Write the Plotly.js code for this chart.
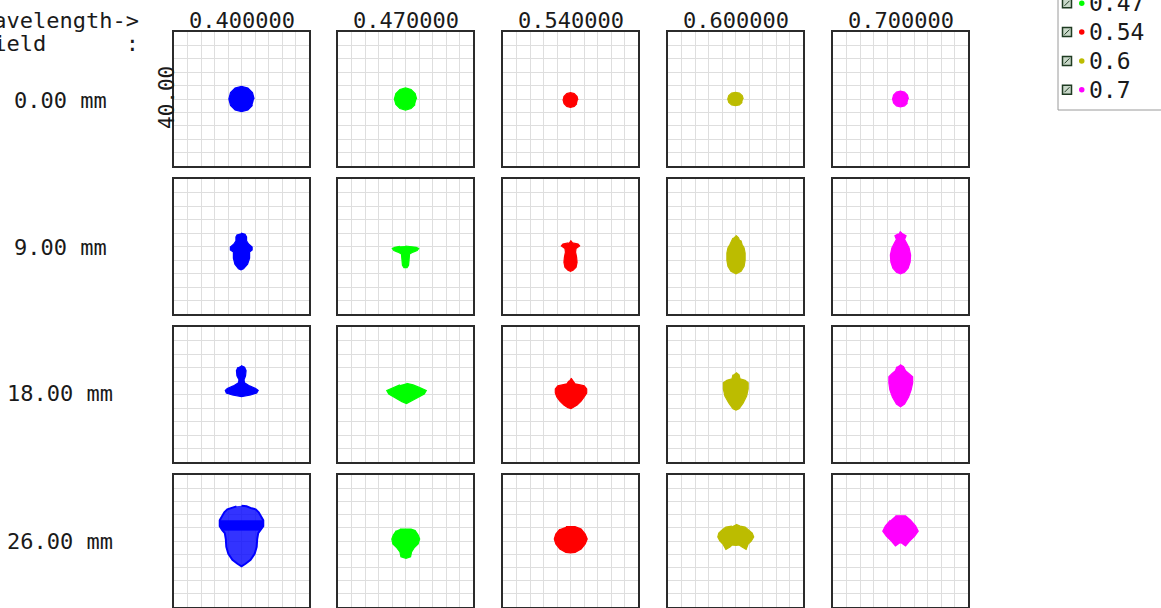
<!DOCTYPE html>
<html>
<head>
<meta charset="utf-8">
<script src="https://cdn.plot.ly/plotly-3.0.1.min.js"></script>
<style>html,body{margin:0;padding:0;background:#fff;}#chart{width:1161px;height:608px;}</style>
</head>
<body>
<div id="chart"></div>
<script>
// ---------------- data ----------------
const wavelengths = [0.4, 0.47, 0.54, 0.6, 0.7];
const waveLabels = ['0.400000', '0.470000', '0.540000', '0.600000', '0.700000'];
const legendLabels = ['0.4', '0.47', '0.54', '0.6', '0.7'];
const fieldLabels = ['0.00 mm', '9.00 mm', '18.00 mm', '26.00 mm'];
const scaleLabel = '40.00';          // box size, micrometres
const boxHalf = 20;                  // half box, micrometres
const colors = ['#0000ff', '#00ff00', '#ff0000', '#bcbc00', '#ff00ff'];

// spot outlines (micrometres, relative to chief ray), field f, wavelength w
const f1w1x = [3.75, 3.25, 1.9, 0, -1.9, -3.25, -3.75, -3.25, -1.9, 0, 1.9, 3.25];
const f1w1y = [0, 1.9, 3.25, 3.75, 3.25, 1.9, 0, -1.9, -3.25, -3.75, -3.25, -1.9];
const f1w2x = [3.3, 2.85, 1.65, 0, -1.65, -2.85, -3.3, -2.85, -1.65, 0, 1.65, 2.85];
const f1w2y = [0, 1.65, 2.85, 3.3, 2.85, 1.65, 0, -1.65, -2.85, -3.3, -2.85, -1.65];
const f1w3x = [2.2, 1.9, 1.1, 0, -1.1, -1.9, -2.2, -1.9, -1.1, 0, 1.1, 1.9];
const f1w3y = [-0.3, 0.8, 1.6, 1.9, 1.6, 0.8, -0.3, -1.4, -2.2, -2.5, -2.2, -1.4];
const f1w4x = [2.3, 2.0, 1.15, 0, -1.15, -2.0, -2.3, -2.0, -1.15, 0, 1.15, 2.0];
const f1w4y = [0, 1.0, 1.75, 2.0, 1.75, 1.0, 0, -1.0, -1.75, -2.0, -1.75, -1.0];
const f1w5x = [2.35, 2.05, 1.2, 0, -1.2, -2.05, -2.35, -2.05, -1.2, 0, 1.2, 2.05];
const f1w5y = [0, 1.2, 2.05, 2.35, 2.05, 1.2, 0, -1.2, -2.05, -2.35, -2.05, -1.2];

const f2w1x = [-0.15, 1.05, 1.5, 1.5, 2.1, 3.15, 3.15, 2.4, 2.4, 1.8, 0.6, -0.15, -0.9, -1.95, -2.4, -2.4, -3.3, -3.3, -2.25, -1.65, -1.65, -1.2];
const f2w1y = [3.96, 3.6, 2.85, 1.65, 0.75, -0.15, -1.05, -1.65, -3.45, -5.25, -6.6, -6.9, -6.6, -5.25, -3.45, -1.65, -1.05, -0.15, 0.75, 1.65, 2.85, 3.6];
const f2w2x = [0, 1.65, 3.15, 3.9, 3.45, 2.25, 1.2, 1.05, 0.9, 0.45, -0.45, -0.9, -1.05, -1.2, -2.25, -3.45, -3.9, -3.15, -1.65];
const f2w2y = [0.15, 0.06, -0.24, -0.6, -1.2, -1.65, -2.25, -4.05, -5.55, -6.24, -6.24, -5.55, -4.05, -2.25, -1.65, -1.2, -0.6, -0.24, 0.06];
const f2w3x = [0, 0.6, 2.25, 2.7, 1.65, 1.5, 1.8, 1.95, 1.65, 0.75, 0, -0.75, -1.65, -1.95, -1.8, -1.5, -1.65, -2.7, -2.25, -0.6];
const f2w3y = [1.8, 1.05, 0.75, 0.15, -0.6, -1.65, -3.15, -4.65, -6.15, -7.05, -7.35, -7.05, -6.15, -4.65, -3.15, -1.65, -0.6, 0.15, 0.75, 1.05];
const f2w4x = [0.15, 0.9, 1.2, 1.65, 1.95, 2.55, 2.85, 2.85, 2.55, 1.65, 0.15, -1.35, -2.25, -2.55, -2.55, -2.25, -1.65, -1.05, -0.75];
const f2w4y = [3.3, 2.55, 1.8, 1.65, 0.6, -0.45, -1.95, -4.05, -5.85, -7.35, -8.1, -7.35, -5.85, -4.05, -1.95, -0.45, 0.6, 1.65, 2.55];
const f2w5x = [-0.15, 0.6, 1.65, 1.2, 1.8, 2.55, 3, 2.85, 2.25, 1.2, 0, -1.2, -2.25, -2.85, -3, -2.55, -1.8, -1.2, -1.65, -0.6];
const f2w5y = [4.5, 3.75, 3.15, 2.1, 1.05, -0.45, -2.55, -4.65, -6.45, -7.65, -8.1, -7.65, -6.45, -4.65, -2.55, -0.45, 1.05, 2.1, 3.15, 3.75];

const f3w1x = [-0.15, 0.9, 1.35, 1.2, 0.75, 0.9, 2.4, 4.2, 4.95, 4.5, 2.7, 0, -2.7, -4.5, -4.8, -4.2, -2.4, -0.9, -0.75, -1.35, -1.5, -1.05];
const f3w1y = [8.55, 8.1, 7.05, 5.55, 4.35, 3.45, 2.55, 1.8, 1.2, 0.45, -0.15, -0.6, -0.15, 0.45, 1.2, 1.8, 2.55, 3.45, 4.35, 5.55, 7.05, 8.1];
const f3w2x = [0.3, 2.25, 4.05, 6.15, 5.55, 3.75, 1.65, 0.3, -1.05, -3.15, -4.95, -5.55, -3.45, -1.65];
const f3w2y = [3.3, 2.85, 2.1, 1.2, 0.15, -0.9, -2.1, -2.7, -2.1, -0.9, 0.15, 1.2, 2.1, 2.85];
const f3w3x = [0.15, 0.75, 1.35, 2.85, 4.05, 4.8, 4.8, 4.05, 3.15, 1.95, 0.75, 0.15, -0.75, -1.95, -3.15, -4.05, -4.5, -4.5, -3.75, -2.55, -1.05, -0.45];
const f3w3y = [4.86, 4.05, 3.15, 2.85, 2.55, 1.65, 0.45, -0.75, -1.95, -3.15, -3.9, -4.2, -3.9, -3.15, -1.95, -0.75, 0.45, 1.65, 2.55, 2.85, 3.15, 4.05];
const f3w4x = [0.15, 1.05, 1.35, 2.85, 3.75, 3.75, 3.3, 2.25, 1.05, 0.15, -0.75, -1.95, -3.15, -3.6, -3.6, -2.55, -1.05, -0.75];
const f3w4y = [6.54, 5.85, 4.65, 4.2, 3.45, 1.65, -0.45, -2.55, -4.2, -4.65, -4.2, -2.55, -0.45, 1.65, 3.45, 4.2, 4.65, 5.85];
const f3w5x = [-0.15, 0.9, 1.5, 2.7, 3.6, 3.6, 3.15, 2.4, 1.2, 0, -1.2, -2.4, -3.15, -3.45, -3.45, -2.55, -1.5, -1.05];
const f3w5y = [8.85, 8.25, 7.05, 6.15, 5.25, 3.45, 1.35, -0.75, -2.85, -3.66, -2.85, -0.75, 1.35, 3.45, 5.25, 6.15, 7.05, 8.25];

const f4w1x = [0, 1.5, 3, 4.2, 5.1, 5.85, 6.45, 6.45, 5.7, 4.95, 4.65, 4.5, 3.9, 2.7, 1.2, 0, -1.2, -2.7, -3.9, -4.5, -4.65, -4.95, -5.7, -6.45, -6.45, -5.85, -5.1, -4.2, -3, -1.5];
const f4w1y = [10.65, 10.5, 9.9, 9.6, 8.7, 7.5, 6.3, 4.5, 3.3, 2.4, 0.6, -1.8, -3.9, -5.7, -6.9, -7.65, -6.9, -5.7, -3.9, -1.8, 0.6, 2.4, 3.3, 4.5, 6.3, 7.5, 8.7, 9.6, 9.9, 10.5];
const f4w1bandx = [-6.45, 6.45, 6.3, 5.7, -5.7, -6.3];
const f4w1bandy = [6.1, 6.1, 4.5, 3.3, 3.3, 4.5];
const f4w2x = [-1.65, 1.65, 2.85, 3.75, 4.2, 3.75, 2.55, 1.8, 1.5, 0.15, -1.35, -1.65, -2.55, -3.75, -4.05, -3.6, -2.7];
const f4w2y = [3.6, 3.6, 3.15, 1.8, 0.6, -0.9, -2.1, -3.3, -4.8, -5.25, -4.8, -3.3, -2.1, -0.9, 0.6, 1.8, 3.15];
const f4w3x = [-1.35, 1.35, 3.15, 4.35, 4.95, 4.35, 3.15, 1.35, 0, -1.35, -3.15, -4.35, -4.8, -4.35, -3.15];
const f4w3y = [4.35, 4.35, 3.6, 2.1, 0.6, -0.9, -2.4, -3.45, -3.6, -3.45, -2.4, -0.9, 0.6, 2.1, 3.6];
const f4w4x = [0.15, 1.35, 2.85, 4.05, 4.95, 5.4, 4.65, 3.75, 3.15, 1.95, 1.05, 0.15, -1.05, -1.65, -2.85, -3.75, -4.65, -5.25, -4.95, -4.05, -2.85, -1.05];
const f4w4y = [5.1, 4.5, 4.2, 3.3, 2.4, 1.2, 0, -0.9, -2.55, -1.8, -1.2, -1.35, -1.2, -1.8, -2.55, -0.9, 0, 1.2, 2.4, 3.3, 4.2, 4.5];
const f4w5x = [-1.5, 1.5, 3, 4.5, 5.25, 4.2, 2.7, 1.5, 0.3, -0.3, -1.5, -2.7, -4.2, -5.25, -4.5, -3];
const f4w5y = [7.65, 7.65, 6.3, 4.5, 3, 1.5, 0, -1.5, -0.6, -0.6, -1.5, 0, 1.5, 3, 4.5, 6.3];

const spots = [
  [[f1w1x, f1w1y], [f1w2x, f1w2y], [f1w3x, f1w3y], [f1w4x, f1w4y], [f1w5x, f1w5y]],
  [[f2w1x, f2w1y], [f2w2x, f2w2y], [f2w3x, f2w3y], [f2w4x, f2w4y], [f2w5x, f2w5y]],
  [[f3w1x, f3w1y], [f3w2x, f3w2y], [f3w3x, f3w3y], [f3w4x, f3w4y], [f3w5x, f3w5y]],
  [[f4w1x, f4w1y], [f4w2x, f4w2y], [f4w3x, f4w3y], [f4w4x, f4w4y], [f4w5x, f4w5y]]
];

// ---------------- layout ----------------
const W = 1161, H = 608;
const px = x => x / W;
const py = y => 1 - y / H;
const colLeft = [174, 338, 503, 668, 833];
const colW = 135;
const rowTop = [32, 179, 327, 475];
const rowBot = [166, 314, 462, 607];
const FONT = 'DejaVu Sans Mono, monospace';
const TXT = '#1a1a1a';

const traces = [];
const layout = {
  width: W, height: H,
  margin: {l: 0, r: 0, t: 0, b: 0},
  paper_bgcolor: '#ffffff', plot_bgcolor: '#ffffff',
  showlegend: false,
  font: {family: FONT, size: 22, color: TXT},
  annotations: [], shapes: []
};

let k = 0;
for (let r = 0; r < 4; r++) {
  for (let c = 0; c < 5; c++) {
    k++;
    const xa = k === 1 ? 'xaxis' : 'xaxis' + k;
    const ya = k === 1 ? 'yaxis' : 'yaxis' + k;
    const xr = k === 1 ? 'x' : 'x' + k;
    const yr = k === 1 ? 'y' : 'y' + k;
    const common = {
      range: [-boxHalf, boxHalf], tick0: 0, dtick: 4,
      showgrid: true, gridcolor: '#dedede', gridwidth: 1,
      zeroline: false, showticklabels: false, ticks: '',
      showline: true, mirror: true, linecolor: '#2b2b2b', linewidth: 2,
      fixedrange: true
    };
    layout[xa] = Object.assign({}, common, {domain: [px(colLeft[c]), px(colLeft[c] + colW)], anchor: yr});
    layout[ya] = Object.assign({}, common, {domain: [Math.max(0, py(rowBot[r])), py(rowTop[r])], anchor: xr});

    const s = spots[r][c];
    const speckled = (r === 3 && c === 0);
    traces.push({
      type: 'scatter', mode: 'lines', x: s[0], y: s[1],
      xaxis: xr, yaxis: yr, fill: 'toself',
      fillcolor: speckled ? 'rgba(0,0,255,0.8)' : colors[c],
      line: {color: colors[c], width: speckled ? 2 : 1.2},
      name: legendLabels[c], hoverinfo: 'skip'
    });
    if (speckled) {
      traces.push({
        type: 'scatter', mode: 'lines', x: f4w1bandx, y: f4w1bandy,
        xaxis: xr, yaxis: yr, fill: 'toself', fillcolor: colors[0],
        line: {color: colors[0], width: 1}, hoverinfo: 'skip', name: legendLabels[0]
      });
    }
  }
}

// column headers
for (let c = 0; c < 5; c++) {
  layout.annotations.push({
    xref: 'paper', yref: 'paper', x: px(colLeft[c] + colW / 2), y: py(20),
    xanchor: 'center', yanchor: 'middle', showarrow: false,
    text: waveLabels[c], font: {family: FONT, size: 22, color: TXT}
  });
}
// row labels
const rowMid = [100, 247, 393, 541];
for (let r = 0; r < 4; r++) {
  layout.annotations.push({
    xref: 'paper', yref: 'paper', x: px(60), y: py(rowMid[r]),
    xanchor: 'center', yanchor: 'middle', showarrow: false,
    text: fieldLabels[r], font: {family: FONT, size: 22, color: TXT}
  });
}
// corner labels (cut at the left page edge, as in the source)
layout.annotations.push({
  xref: 'paper', yref: 'paper', x: px(141), y: py(20),
  xanchor: 'right', yanchor: 'middle', showarrow: false,
  text: 'Wavelength-&gt;', font: {family: FONT, size: 22, color: TXT}
});
layout.annotations.push({
  xref: 'paper', yref: 'paper', x: px(141), y: py(43),
  xanchor: 'right', yanchor: 'middle', showarrow: false,
  text: 'Field&nbsp;&nbsp;&nbsp;&nbsp;&nbsp;&nbsp;:', font: {family: FONT, size: 22, color: TXT}
});
// scale label
layout.annotations.push({
  xref: 'paper', yref: 'paper', x: px(167), y: py(98),
  xanchor: 'center', yanchor: 'middle', showarrow: false, textangle: -90,
  text: scaleLabel, font: {family: FONT, size: 21, color: TXT}
});

// legend (top-right, partly off-page)
layout.shapes.push({
  type: 'rect', xref: 'paper', yref: 'paper',
  x0: px(1058), x1: px(1175), y0: py(110), y1: py(-20),
  line: {color: '#9a9a9a', width: 1}, fillcolor: 'rgba(0,0,0,0)'
});
const legY0 = -25.5, legDy = 28.8;
for (let i = 0; i < legendLabels.length; i++) {
  const yc = legY0 + i * legDy;
  if (yc < -10) continue;   // entry lies above the visible page
  layout.shapes.push({
    type: 'rect', xref: 'paper', yref: 'paper',
    x0: px(1062.5), x1: px(1071.5), y0: py(yc + 4.5), y1: py(yc - 4.5),
    line: {color: '#1f3b22', width: 1.5}, fillcolor: '#c9d8c9'
  });
  layout.shapes.push({
    type: 'line', xref: 'paper', yref: 'paper',
    x0: px(1064.5), x1: px(1069.5), y0: py(yc + 2.5), y1: py(yc - 2.5),
    line: {color: '#1f3b22', width: 1}
  });
  layout.shapes.push({
    type: 'circle', xref: 'paper', yref: 'paper',
    x0: px(1079), x1: px(1084.5), y0: py(yc + 2.75), y1: py(yc - 2.75),
    line: {color: colors[i], width: 0}, fillcolor: colors[i]
  });
  layout.annotations.push({
    xref: 'paper', yref: 'paper', x: px(1087), y: py(yc),
    xanchor: 'left', yanchor: 'middle', showarrow: false,
    text: legendLabels[i], font: {family: FONT, size: 23, color: TXT}
  });
}

Plotly.newPlot('chart', traces, layout, {displayModeBar: false, staticPlot: true});
</script>
</body>
</html>
